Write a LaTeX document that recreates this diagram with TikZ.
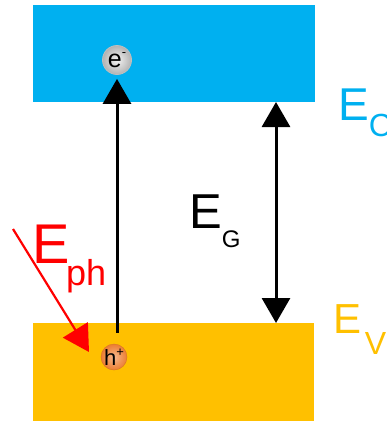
\documentclass[tikz,border=0pt]{standalone}
\usepackage{fontspec}
\setmainfont{Liberation Sans}
\usetikzlibrary{arrows.meta}
\definecolor{cbblue}{HTML}{00B0F0}
\definecolor{vborange}{HTML}{FFC000}
\definecolor{phred}{HTML}{FF0000}
\definecolor{holeor}{HTML}{ED7D31}
\tikzset{
  band/.style={rectangle, inner sep=0pt, draw=none},
  arr/.style={line width=3pt, -{Triangle[length=25pt,width=28pt]}},
  darr/.style={line width=3pt, {Triangle[length=25pt,width=28pt]}-{Triangle[length=25pt,width=28pt]}},
  redarr/.style={line width=2.2pt, draw=phred, -{Triangle[length=26pt,width=29pt]}},
  particle/.style={circle, inner sep=0pt, minimum size=29pt},
  lbl/.style={anchor=base west, inner sep=0pt}
}
\begin{document}
\begin{tikzpicture}[x=1pt,y=-1pt]
\useasboundingbox (0,0) rectangle (387,421);
% bands
\node[band, fill=cbblue, minimum width=282pt, minimum height=97pt] (cb) at (174,53.5) {};
\node[band, fill=vborange, minimum width=281pt, minimum height=98pt] (vb) at (173.5,372) {};
% particles
\node[particle, inner color=gray!10, outer color=gray!60, draw=gray!50, line width=0.8pt] (el) at (117,60)
  {\fontsize{25}{25}\selectfont e\raisebox{0.45em}{\fontsize{13}{13}\selectfont -}};
\node[particle, minimum size=26pt, inner color=holeor!55, outer color=holeor, draw=holeor!90!black, line width=0.4pt] (hole) at (114,357)
  {\fontsize{22}{22}\selectfont h\raisebox{0.4em}{\fontsize{13}{13}\selectfont +}};
% excitation arrow
\draw[arr] (hole.north -| el.south) -- (el.south) [shorten <=11pt, shorten >=4pt];
% band gap arrow
\coordinate (gt) at (276,102);
\coordinate (gb) at (276,323);
\draw[darr] (gt) -- (gb);
% photon arrow
\coordinate (phs) at (13,229);
\coordinate (phe) at (89,352);
\draw[redarr] (phs) -- (phe);
% labels
\node[lbl, text=cbblue] (ec) at (338,120) {\fontsize{46}{46}\selectfont E\raisebox{-16pt}{\fontsize{32}{32}\selectfont C}};
\node[lbl, text=vborange] (ev) at (333.6,333) {\fontsize{42}{42}\selectfont E\hspace{3pt}\raisebox{-21pt}{\fontsize{32}{32}\selectfont V}};
\node[lbl] (eg) at (189,228) {\fontsize{49}{49}\selectfont E\raisebox{-19pt}{\fontsize{24}{24}\selectfont G}};
\node[lbl, text=phred] (eph) at (32.5,263) {\fontsize{56}{56}\selectfont E\hspace{-4pt}\raisebox{-22pt}{\fontsize{36}{36}\selectfont ph}};
\end{tikzpicture}
\end{document}
